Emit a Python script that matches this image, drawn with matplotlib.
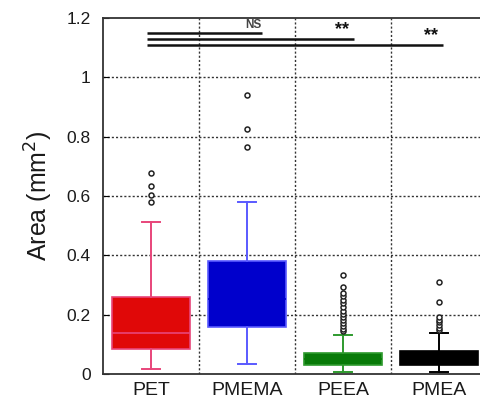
import matplotlib
matplotlib.use("Agg")
import matplotlib.pyplot as plt

plt.rcParams['font.family'] = ['Liberation Sans', 'DejaVu Sans']

categories = ["PET", "PMEMA", "PEEA", "PMEA"]
q1 = [0.085, 0.157, 0.030, 0.030]
med = [0.137, 0.252, 0.050, 0.052]
q3 = [0.258, 0.382, 0.072, 0.078]
whislo = [0.018, 0.035, 0.008, 0.007]
whishi = [0.513, 0.581, 0.133, 0.139]
fliers_pet = [0.581, 0.603, 0.634, 0.677]
fliers_pmema = [0.764, 0.827, 0.940]
fliers_peea = [0.145, 0.152, 0.162, 0.172, 0.182, 0.192, 0.203, 0.214, 0.226,
               0.238, 0.250, 0.262, 0.274, 0.294, 0.334]
fliers_pmea = [0.148, 0.155, 0.165, 0.175, 0.183, 0.191, 0.244, 0.311]
fliers = [fliers_pet, fliers_pmema, fliers_peea, fliers_pmea]

face_colors = ["#e00808", "#0000cc", "#087a08", "#000000"]
edge_colors = ["#e8457a", "#5a5aff", "#2e9a2e", "#000000"]
median_colors = ["#e8457a", "#0000cc", "#087a08", "#000000"]

# significance bars
sig_x0 = [0.955, 0.955, 0.955]
sig_x1 = [2.16, 3.11, 4.04]
sig_y = [1.150, 1.129, 1.109]
sig_labels = ["NS", "**", "**"]
sig_label_x = [2.07, 2.99, 3.92]

fig = plt.figure(figsize=(4.81, 4.01), dpi=100)
ax = fig.add_axes([103/481, 27/401, 384/481, 356/401])

stats = []
for i in range(4):
    stats.append(dict(med=med[i], q1=q1[i], q3=q3[i], whislo=whislo[i],
                      whishi=whishi[i], fliers=fliers[i], label=categories[i]))

bp = ax.bxp(stats, positions=[1, 2, 3, 4], widths=0.81, patch_artist=True,
            showfliers=True, capwidths=0.18,
            flierprops=dict(marker='o', markersize=3.6, markerfacecolor='white',
                            markeredgecolor='#222222', markeredgewidth=1.1,
                            linestyle='none'))
for i in range(4):
    bp['boxes'][i].set_facecolor(face_colors[i])
    bp['boxes'][i].set_edgecolor(edge_colors[i])
    bp['boxes'][i].set_linewidth(1.2)
    bp['medians'][i].set_color(median_colors[i])
    bp['medians'][i].set_linewidth(1.2)
    for w in bp['whiskers'][2*i:2*i+2]:
        w.set_color(edge_colors[i]); w.set_linewidth(1.4)
    for c in bp['caps'][2*i:2*i+2]:
        c.set_color(edge_colors[i]); c.set_linewidth(1.4)
    for b in [bp['boxes'][i], bp['medians'][i]] + bp['whiskers'][2*i:2*i+2] + bp['caps'][2*i:2*i+2]:
        b.set_zorder(3)
    bp['fliers'][i].set_zorder(4)

ax.set_xlim(0.5, 4.5)
ax.set_ylim(0, 1.2)
ax.set_yticks([0, 0.2, 0.4, 0.6, 0.8, 1.0, 1.2])
ax.set_yticklabels(["0", "0.2", "0.4", "0.6", "0.8", "1", "1.2"])
ax.set_xticks([1, 2, 3, 4])
ax.set_xticklabels(categories)
ax.tick_params(axis='x', length=0, labelsize=14, pad=6, labelcolor='#1a1a1a')
ax.tick_params(axis='y', direction='in', length=4, labelsize=12.5, pad=9,
               labelcolor='#1a1a1a')

for y in [0.2, 0.4, 0.6, 0.8, 1.0]:
    ax.axhline(y, color='#333333', linestyle=(0, (1.5, 1.5)), linewidth=1.0, zorder=1)
for x in [1.5, 2.5, 3.5]:
    ax.axvline(x, color='#333333', linestyle=(0, (1.5, 1.5)), linewidth=1.0, zorder=1)

for sp in ax.spines.values():
    sp.set_linewidth(1.3)
    sp.set_color('#333333')

ax.set_ylabel("Area (mm$^2$)", fontsize=18, labelpad=8, color='#1a1a1a')

for i in range(3):
    ax.plot([sig_x0[i], sig_x1[i]], [sig_y[i], sig_y[i]], color='#111111',
            linewidth=1.8, solid_capstyle='butt', zorder=5)
ax.text(sig_label_x[0], sig_y[0] + 0.005, sig_labels[0], ha='center', va='bottom',
        fontsize=8.5, fontweight='bold', color='#444444')
ax.text(sig_label_x[1], sig_y[1] + 0.002, sig_labels[1], ha='center', va='bottom',
        fontsize=13, fontweight='bold', color='#111111')
ax.text(sig_label_x[2], sig_y[2] + 0.002, sig_labels[2], ha='center', va='bottom',
        fontsize=13, fontweight='bold', color='#111111')

fig.savefig("out.png", dpi=100)
